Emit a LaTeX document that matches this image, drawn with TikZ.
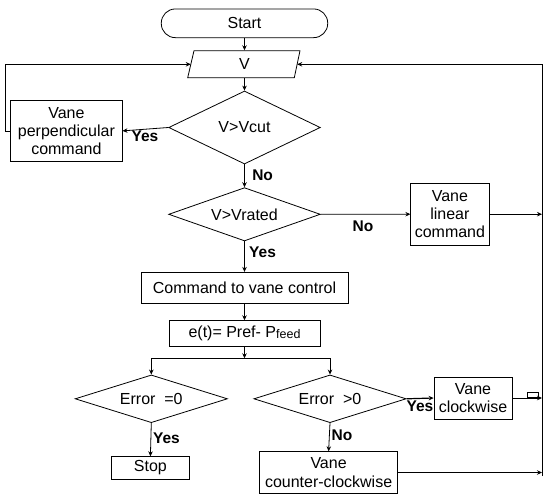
\documentclass[tikz,border=0pt]{standalone}
\usepackage{fontspec}
\setmainfont{Liberation Sans}
\usetikzlibrary{shapes.geometric,arrows.meta}
\begin{document}
\begin{tikzpicture}[x=1pt,y=-1pt, line width=0.8pt,
  txt/.style={font=\fontsize{16}{18.3}\selectfont},
  box/.style={draw, rectangle, inner sep=0pt, align=center, txt},
  dec/.style={draw, diamond, aspect=3, inner sep=0pt, txt},
  lab/.style={font=\fontsize{15.5}{17}\selectfont\bfseries, inner sep=0pt},
  arr/.style={-{Stealth[length=5pt,width=4.5pt]}}]
\useasboundingbox (0,0) rectangle (550,501);

% nodes
\node[box, rounded corners=14pt, minimum width=166.4pt, minimum height=28.7pt] (start) at (244.5,23.3) {Start};
\draw (194,50.7) -- (300,50.7) -- (294.3,77.7) -- (187.7,77.7) -- cycle;
\node[inner sep=0pt, minimum width=100pt, minimum height=27pt, txt] (V) at (244.5,64.2) {V};
\coordinate (Vl) at (190.8,64.3);
\coordinate (Vr) at (297.2,64.3);

\node[dec, minimum width=151.6pt, minimum height=73pt] (vcut) at (244.5,127.5) {V>Vcut};
\node[box, minimum width=111.3pt, minimum height=60.3pt] (perp) at (66.4,130.9) {Vane\\perpendicular\\command};
\node[dec, minimum width=151.6pt, minimum height=53.3pt] (vrated) at (244.5,214.3) {V>Vrated};
\node[box, minimum width=78.2pt, minimum height=61.7pt] (lin) at (449.9,214.2) {Vane\\linear\\command};
\node[box, minimum width=207pt, minimum height=31pt] (cmd) at (244.5,287.8) {Command to vane control};
\node[box, minimum width=151pt, minimum height=26pt] (et) at (244.5,333.7) {e(t)= Pref- P{\raisebox{-1pt}{\fontsize{12.5}{14}\selectfont feed}}};
\node[dec, minimum width=152.3pt, minimum height=47.7pt] (e0) at (151.3,398.8) {Error\ \ =0};
\node[dec, minimum width=152.3pt, minimum height=47.7pt] (eg) at (330,398.8) {Error\ \ >0};
\node[box, minimum width=78pt, minimum height=42pt] (cw) at (473,398) {Vane\\clockwise};
\node[box, minimum width=78pt, minimum height=22.6pt] (stop) at (150.4,468) {Stop};
\node[box, minimum width=137.5pt, minimum height=41.6pt] (ccw) at (328.6,472.5) {Vane\\counter-clockwise};

% labels
\node[lab] (l1) at (145,136.5) {Yes};
\node[lab] (l2) at (262.6,175.7) {No};
\node[lab] (l3) at (363,226.7) {No};
\node[lab] (l4) at (262.6,252.5) {Yes};
\node[lab] (l5) at (166.5,438.3) {Yes};
\node[lab] (l6) at (420,406.7) {Yes};
\node[lab] (l7) at (342,435) {No};

% coordinates
\coordinate (lc) at (5.3,64.3);
\coordinate (rtop) at (542,64.3);
\coordinate (rbot) at (542,476);
\coordinate (sp) at (244.5,358.3);

% connectors
\draw[arr] (start.south) -- (V.north);
\draw[arr] (V.south) -- (vcut.north);
\draw[arr] (vcut.west) -- (perp.east);
\draw[arr] (perp.west) -| (lc) -- (Vl);
\draw[arr] (vcut.south) -- (vrated.north);
\draw[arr] (vrated.east) -- (lin.west);
\draw[arr] (lin.east) -- (lin.east -| rtop);
\draw (rbot) -- (rtop);
\draw[arr] (rtop) -- (Vr);
\draw[arr] (vrated.south) -- (cmd.north);
\draw[arr] (cmd.south) -- (et.north);
\draw[arr] (et.south) -- (sp);
\draw[arr] (sp) -| (e0.north);
\draw[arr] (sp) -| (eg.north);
\draw[arr] (e0.south) -- (stop.north);
\draw[arr, line width=1.2pt] (eg.east) -- (cw.west);
\draw[arr] (cw.east) -- (cw.east -| rtop);
\draw[line width=0.6pt] (527,392.7) rectangle (538,397.7);
\draw[arr] (eg.south) -- (ccw.north);
\draw[arr] (ccw.east) -- (ccw.east -| rtop);
\end{tikzpicture}
\end{document}
